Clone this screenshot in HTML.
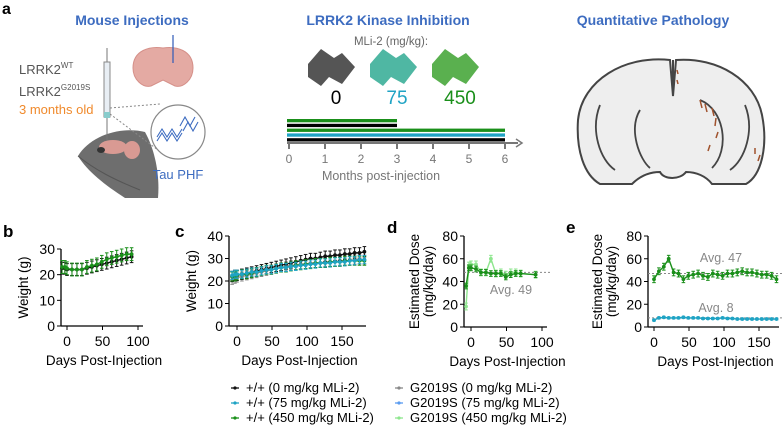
<!DOCTYPE html>
<html><head><meta charset="utf-8"><style>
html,body{margin:0;padding:0;background:#fff;width:783px;height:428px;overflow:hidden}
svg{display:block;font-family:"Liberation Sans",Arial,sans-serif}
</style></head><body>
<svg id="fig" width="783" height="428" viewBox="0 0 783 428">
<g>
<text x="2" y="14" font-size="16" font-weight="bold">a</text>
<text x="132" y="25" font-size="14" font-weight="bold" fill="#3d6cc0" text-anchor="middle">Mouse Injections</text>
<text x="388" y="25" font-size="14" font-weight="bold" fill="#3d6cc0" text-anchor="middle">LRRK2 Kinase Inhibition</text>
<text x="653" y="25" font-size="14" font-weight="bold" fill="#3d6cc0" text-anchor="middle">Quantitative Pathology</text>
<text x="19" y="74" font-size="13" fill="#555">LRRK2<tspan font-size="8" dy="-6">WT</tspan></text>
<text x="19" y="96" font-size="13" fill="#555">LRRK2<tspan font-size="8" dy="-6">G2019S</tspan></text>
<text x="19" y="114" font-size="13" fill="#f08a2c">3 months old</text>
<g>
<path d="M78,156 C90,136 120,126 145,132 C155,150 160,175 158,198 L125,198 C105,185 88,172 78,156 Z" fill="#6e6e6e"/>
<path d="M78,156 C95,170 115,180 140,190" stroke="#555" fill="none"/>
<ellipse cx="113" cy="147" rx="14" ry="7" fill="#d99a93"/>
<ellipse cx="132" cy="150" rx="8" ry="9" fill="#d99a93"/>
<ellipse cx="101" cy="150" rx="4" ry="3" fill="#333"/>
</g>
<g>
<line x1="107" y1="48" x2="107" y2="140" stroke="#777" stroke-width="1"/>
<rect x="104" y="62" width="6" height="55" fill="#e8eef4" stroke="#888"/>
<rect x="104" y="112" width="6" height="6" fill="#8cc"/>
</g>
<g>
<path d="M133,68 C133,50 150,46 163,48 C176,46 193,50 193,68 C193,80 183,88 175,86 L163,80 L151,86 C143,88 133,80 133,68Z" fill="#e4aaa3" stroke="#d59089"/>
<line x1="173" y1="35" x2="173" y2="63" stroke="#2f5bb7" stroke-width="1.2"/>
</g>
<line x1="110" y1="108" x2="160" y2="104" stroke="#888" stroke-dasharray="2,2"/>
<line x1="110" y1="114" x2="158" y2="150" stroke="#888" stroke-dasharray="2,2"/>
<circle cx="178" cy="132" r="27" fill="#fff" stroke="#888" stroke-width="1.2"/>
<path d="M157,137 l5,-8 l5,8 l5,-8 l5,8 l5,-8 M157,141 l5,-8 l5,8 l5,-8 l5,8 l5,-8 M180,126 l5,-9 l5,9 l5,-9 l-5,9 M183,131 l5,-9 l5,9 l5,-9" stroke="#3d6cc0" fill="none" stroke-width="1.1"/>
<text x="178" y="179" font-size="13" fill="#3d6cc0" text-anchor="middle">Tau PHF</text>
<text x="391" y="45" font-size="11.5" fill="#666" text-anchor="middle">MLi-2 (mg/kg):</text>
<g>
<path d="M308,64 l13,-15 l13,9 l8,-5 l13,14 l-13,17 l-13,-7 l-8,9 l-13,-9 z" fill="#555"/>
<path d="M370,64 l13,-15 l13,9 l8,-5 l13,14 l-13,17 l-13,-7 l-8,9 l-13,-9 z" fill="#4fb7a3"/>
<path d="M432,64 l13,-15 l13,9 l8,-5 l13,14 l-13,17 l-13,-7 l-8,9 l-13,-9 z" fill="#5ab04f"/>
</g>
<text x="336" y="104" font-size="19" fill="#000" text-anchor="middle">0</text>
<text x="397" y="104" font-size="19" fill="#1fa3c4" text-anchor="middle">75</text>
<text x="460" y="104" font-size="19" fill="#1a8f1a" text-anchor="middle">450</text>
<g id="timeline"></g>
<g>
<path d="M670,60 C625,55 582,80 578,120 C576,150 584,175 600,184 L632,184 C640,176 650,172 660,172 C664,180 680,180 686,172 C696,172 706,176 712,184 L746,184 C762,175 768,145 762,115 C755,80 718,57 676,60 L673,96 Z" fill="#eee" stroke="#444" stroke-width="2"/>
<line x1="673" y1="60" x2="673" y2="96" stroke="#444" stroke-width="2"/>
<path d="M600,105 C590,130 600,160 615,170 M745,105 C755,130 745,160 730,170 M640,110 C628,130 640,160 650,168 M700,100 C725,110 730,150 712,168" fill="none" stroke="#444" stroke-width="1.8"/>
<path d="M700,100 l2,8 M705,104 l2,8 M712,108 l2,8 M716,118 l-1,8 M718,132 l-2,6 M710,145 l-2,6 M755,148 l0,6 M760,155 l-2,6 M677,70 l1,4 M677,80 l1,4" stroke="#a0522d" stroke-width="1.5"/>
</g>
</g>
<g id="charts"></g>
<g id="legend"></g>
<script>
// ---------- timeline data ----------
const tlMonths=[0,1,2,3,4,5,6];
const tlBarEnds=[3,3,6,6,6];
const tlBarColors=['#1a8f1a','#000','#1a8f1a','#1fa3c4','#000'];
// ---------- panel b ----------
const bDays=[-7,-3,0,7,14,21,28,35,42,49,56,63,70,77,84,91];
const bBlack=[22.5,22.5,22,22,22,22,22.5,23,23.5,24,24.5,25,25.5,26,26.5,27];
const bGreen=[23,23,22.5,22,22,22,23,23.5,24,25,26,26.5,27,27.5,28,28];
// ---------- panel c ----------
const cDays=[-7,-3,0,7,14,21,28,35,42,49,56,63,70,77,84,91,98,105,112,119,126,133,140,147,154,161,168,175,182];
const cGray=[20.5,21,21.5,22,22.5,23,23.5,24,24.5,25,25.5,26,26.5,27,27,27.5,27.5,28,28,28,28.5,28.5,28.5,29,29,29,29.5,29.5,29.5];
const cBlack=[22,22.5,22.5,23,23.5,24,24.5,25,25.5,26,26.5,27,27.5,28,28.5,29,29.5,30,30,30.5,31,31,31.5,31.5,32,32,32.5,32.5,33];
const cGreen=[22,22,22.5,23,23,23.5,24,24.5,25,25,25.5,26,26,26.5,27,27,27.5,27.5,28,28,28,28.5,28.5,28.5,29,29,29,29,29];
const cCyan=[22.5,23,23,23,23.5,24,24,24.5,25,25,25.5,26,26,26.5,26.5,27,27,27.5,27.5,28,28,28,28.5,28.5,28.5,29,29,29.5,29.5];
// ---------- panel d ----------
const dDays=[-7,-3,0,7,14,21,28,35,42,49,56,63,70,91];
const dLight=[18,54,55,55,48,48,60,47,48,46,48,48,47,46];
const dDark=[36,52,52,51,48,48,47,47,47,44,46,47,47,46];
const dAvg=[48];
const dAvgLabel=['Avg. 49'];
// ---------- panel e ----------
const eDays=[0,7,14,21,28,35,42,49,56,63,70,77,84,91,98,105,112,119,126,133,140,147,154,161,168,175];
const eGreen=[42,49,53,60,48,47,42,45,46,47,45,44,47,46,45,47,47,48,49,48,48,47,46,46,45,42];
const eCyan=[6,8,8.5,8,8,8,8.5,8,8,8,7.5,7.5,7.5,7.5,8,7.5,7.5,7,7,7,7,7,7,7,7,7];
const eAvg=[47,8];
const eAvgLabel=['Avg. 47','Avg. 8'];
// ---------- legend ----------
const legLeft=['+/+ (0 mg/kg MLi-2)','+/+ (75 mg/kg MLi-2)','+/+ (450 mg/kg MLi-2)'];
const legRight=['G2019S (0 mg/kg MLi-2)','G2019S (75 mg/kg MLi-2)','G2019S (450 mg/kg MLi-2)'];

const NS='http://www.w3.org/2000/svg';
function mk(tag,attrs,parent){const e=document.createElementNS(NS,tag);for(const k in attrs)e.setAttribute(k,attrs[k]);parent.appendChild(e);return e;}
function txt(s,attrs,parent){const e=mk('text',attrs,parent);e.textContent=s;return e;}

const tl=document.getElementById('timeline');
const tx=m=>289+m*36;
tlBarEnds.forEach((m,i)=>{
 const r=mk('rect',{x:287,y:119+i*4.8,width:tx(m)-287,height:3.3,fill:tlBarColors[i]},tl);
 
 
});
mk('line',{x1:287,y1:143,x2:518,y2:143,stroke:'#777','stroke-width':2},tl);
mk('path',{d:'M516,139 l6,4 l-6,4',fill:'none',stroke:'#777','stroke-width':1.5},tl);
tlMonths.forEach(m=>{
 mk('line',{x1:tx(m),y1:143,x2:tx(m),y2:149,stroke:'#777','stroke-width':2},tl);
 const t=txt(String(m),{x:tx(m),y:163,'font-size':12,fill:'#777','text-anchor':'middle'},tl);
 
 
});
txt('Months post-injection',{x:381,y:180,'font-size':12.5,fill:'#777','text-anchor':'middle'},tl);

const charts=document.getElementById('charts');
function panel(o){
 const g=mk('g',{},charts);
 
 
 const X=v=>o.x0+(v-o.d0)*(o.x1-o.x0)/(o.d1-o.d0);
 const Y=v=>o.y0-(v)*(o.y0-o.yTop)/o.yMax;
 txt(o.label,{x:o.lx,y:o.ly,'font-size':17,'font-weight':'bold'},g);
 mk('line',{x1:o.ax,y1:Y(o.yMax),x2:o.ax,y2:o.y0,stroke:'#000','stroke-width':1.3},g);
 mk('line',{x1:o.ax,y1:o.y0,x2:o.axEnd,y2:o.y0,stroke:'#000','stroke-width':1.3},g);
 o.yt.forEach(v=>{mk('line',{x1:o.ax-4,y1:Y(v),x2:o.ax,y2:Y(v),stroke:'#000'},g);
  const t=txt(String(v),{x:o.ax-6,y:Y(v)+5,'font-size':14,'text-anchor':'end'},g);
  
  });
 o.xt.forEach(v=>{mk('line',{x1:X(v),y1:o.y0,x2:X(v),y2:o.y0+4,stroke:'#000'},g);
  const t=txt(String(v),{x:X(v),y:o.y0+20,'font-size':14,'text-anchor':'middle'},g);
  
  });
 const xl=txt('Days Post-Injection',{x:(o.ax+o.axEnd)/2+2,y:o.y0+39,'font-size':13.5,'text-anchor':'middle'},g);
 
 
 o.yTitle.forEach((s,i)=>{const t=txt(s,{transform:`translate(${o.ytx+i*14},${(o.y0+Y(o.yMax))/2}) rotate(-90)`,'font-size':13.5,'text-anchor':'middle'},g);
  
  });
 (o.avg||[]).forEach((a,i)=>{mk('line',{x1:o.ax,y1:Y(a),x2:o.axEnd+4,y2:Y(a),stroke:'#888','stroke-dasharray':'2,2'},g);
  txt(o.avgLabel[i],{x:o.avgPos[i][0],y:o.avgPos[i][1],'font-size':12.5,fill:'#888','text-anchor':'middle'},g);});
 o.series.forEach(s=>{
  const sg=mk('g',{},g);
  
  
  mk('polyline',{points:o.days.map((d,i)=>X(d)+','+Y(s.v[i])).join(' '),fill:'none',stroke:s.c,'stroke-width':1.4},sg);
  o.days.forEach((d,i)=>{
   const e=s.e;const x=X(d);
   if(e){mk('line',{x1:x,y1:Y(s.v[i]-e),x2:x,y2:Y(s.v[i]+e),stroke:s.c,'stroke-width':1},sg);
    mk('line',{x1:x-1.8,y1:Y(s.v[i]+e),x2:x+1.8,y2:Y(s.v[i]+e),stroke:s.c},sg);
    mk('line',{x1:x-1.8,y1:Y(s.v[i]-e),x2:x+1.8,y2:Y(s.v[i]-e),stroke:s.c},sg);}
   mk('circle',{cx:x,cy:Y(s.v[i]),r:1.9,fill:s.c},sg);
  });
 });
}
panel({name:'panel-b-chart',label:'b',lx:3,ly:237,x0:67,x1:138,d0:0,d1:100,y0:326,yTop:249,yMax:30,ax:61,axEnd:143,yt:[0,10,20,30],xt:[0,50,100],days:bDays,ytx:28,yTitle:['Weight (g)'],
 series:[{name:'series-b-wt-0',v:bBlack,c:'#111',e:2.3},{name:'series-b-wt-450',v:bGreen,c:'#1a8f1a',e:2.5}]});
panel({name:'panel-c-chart',label:'c',lx:175,ly:237,x0:237,x1:342,d0:0,d1:150,y0:326,yTop:236,yMax:40,ax:229,axEnd:366,yt:[0,10,20,30,40],xt:[0,50,100,150],days:cDays,ytx:196,yTitle:['Weight (g)'],
 series:[{name:'series-c-g2019s-0',v:cGray,c:'#888',e:2},{name:'series-c-wt-0',v:cBlack,c:'#111',e:2.3},{name:'series-c-wt-450',v:cGreen,c:'#1a8f1a',e:2},{name:'series-c-wt-75',v:cCyan,c:'#1fa3c4',e:1.8}]});
panel({name:'panel-d-chart',label:'d',lx:387,ly:233,x0:471,x1:542,d0:0,d1:100,y0:327,yTop:236,yMax:80,ax:464,axEnd:547,yt:[0,20,40,60,80],xt:[0,50,100],days:dDays,ytx:419,yTitle:['Estimated Dose','(mg/kg/day)'],
 avg:dAvg,avgLabel:dAvgLabel,avgPos:[[511,294]],
 series:[{name:'series-d-g2019s-450',v:dLight,c:'#8ee68e',e:3},{name:'series-d-wt-450',v:dDark,c:'#1a8f1a',e:2.5}]});
panel({name:'panel-e-chart',label:'e',lx:566,ly:233,x0:654,x1:759,d0:0,d1:150,y0:327,yTop:236,yMax:80,ax:648,axEnd:779,yt:[0,20,40,60,80],xt:[0,50,100,150],days:eDays,ytx:602,yTitle:['Estimated Dose','(mg/kg/day)'],
 avg:eAvg,avgLabel:eAvgLabel,avgPos:[[721,262],[716,312]],
 series:[{name:'series-e-450',v:eGreen,c:'#1a8f1a',e:3},{name:'series-e-75',v:eCyan,c:'#1fa3c4',e:0.8}]});

const lg=document.getElementById('legend');
const legLC=['#111','#1fa3c4','#1a8f1a'],legRC=['#888','#5a9cf0','#8ee68e'];
[[legLeft,legLC,231],[legRight,legRC,395]].forEach(([labs,cols,x])=>{
 labs.forEach((s,i)=>{
  const y=392+i*15;
  const e=mk('g',{},lg);
  
  
  mk('line',{x1:x,y1:y-4,x2:x+8,y2:y-4,stroke:cols[i],'stroke-width':1.3},e);
  mk('circle',{cx:x+4,cy:y-4,r:1.6,fill:cols[i]},e);
  txt(s,{x:x+15,y:y,'font-size':13},e);
 });
});
</script>
</svg>
</body></html>
